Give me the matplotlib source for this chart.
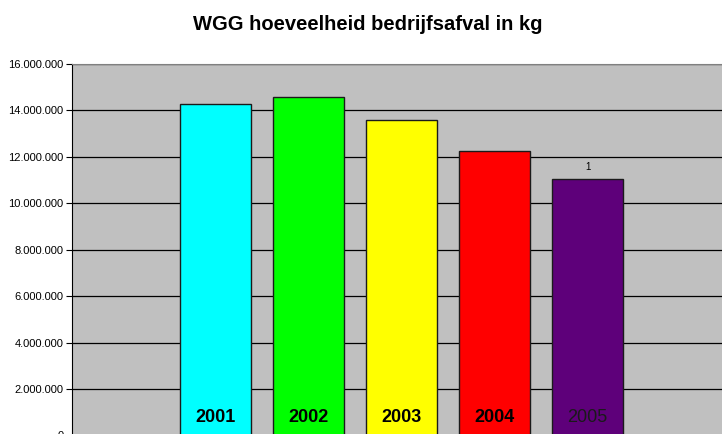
import matplotlib
matplotlib.use("Agg")
import matplotlib.pyplot as plt
from matplotlib.ticker import FuncFormatter

years = ["2001", "2002", "2003", "2004", "2005"]
values = [14260000, 14590000, 13590000, 12250000, 11030000]
colors = ["#00FFFF", "#00FF00", "#FFFF00", "#FF0000", "#5E007A"]
bold_labels = [True, True, True, True, False]
top_label_text = "1"
yticks = list(range(0, 16000001, 2000000))

plt.rcParams['font.family'] = ['Liberation Sans', 'DejaVu Sans']

W, H = 722, 434
fig = plt.figure(figsize=(W / 100, H / 100), dpi=100)
left_px, right_px, top_px, bottom_px = 72, 722, 64, 435.5
ax = fig.add_axes([left_px / W, 1 - bottom_px / H,
                   (right_px - left_px) / W, (bottom_px - top_px) / H])
ax.set_facecolor("#C0C0C0")

x = list(range(len(years)))
ax.bar(x, values, width=71 / 93, color=colors, edgecolor="#1a1a1a", linewidth=1, zorder=3)

ax.set_ylim(0, 16000000)
ax.set_xlim(-143.5 / 93, (722 - 215.5) / 93)
ax.set_yticks(yticks)
ax.yaxis.set_major_formatter(FuncFormatter(lambda v, p: f"{int(v):,}".replace(",", ".")))
ax.tick_params(axis='y', labelsize=8, length=4, width=0.8, direction='out', pad=2, colors='black')
ax.set_xticks([])
ax.grid(axis='y', color='black', linewidth=0.9, zorder=1)
ax.set_axisbelow(True)

for s in ['right', 'bottom']:
    ax.spines[s].set_visible(False)
ax.spines['top'].set_color('#808080')
ax.spines['left'].set_color('black')

for xi, y, b in zip(x, years, bold_labels):
    ax.text(xi, 400000, y, ha='center', va='bottom', fontsize=13,
            fontweight='bold' if b else 'normal',
            color='black' if b else '#1a1a1a', zorder=5)

ax.text(x[-1], values[-1] + 300000, top_label_text, ha='center', va='bottom', fontsize=7, zorder=5)

fig.text(367.5 / W, 1 - 24 / H, "WGG hoeveelheid bedrijfsafval in kg", ha='center', va='center',
         fontsize=14.5, fontweight='bold')

fig.savefig("out.png", dpi=100)
